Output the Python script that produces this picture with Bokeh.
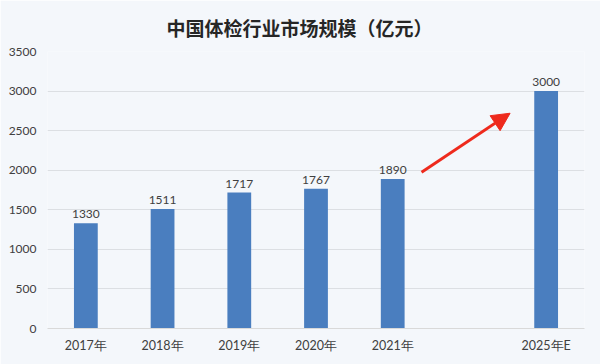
from bokeh.plotting import figure
from bokeh.models import FactorRange, Range1d, Arrow, NormalHead, SingleIntervalTicker, ColumnDataSource
from bokeh.core.properties import value
from bokeh.embed import file_html
from bokeh.resources import INLINE

title_text = "中国体检行业市场规模（亿元）"
slots = ["2017年", "2018年", "2019年", "2020年", "2021年", " ", "2025年E"]
years = ["2017年", "2018年", "2019年", "2020年", "2021年", "2025年E"]
sizes = [1330, 1511, 1717, 1767, 1890, 3000]

BG = "#f4f7fb"
BAR = "#4a7ebf"
FONT = "Lato"

p = figure(frame_width=537, frame_height=277, output_backend="svg", toolbar_location=None,
           x_range=FactorRange(*slots), y_range=Range1d(0, 3500),
           min_border_left=47, min_border_right=16, min_border_bottom=36, min_border_top=51)
p.background_fill_color = BG
p.border_fill_color = BG
p.outline_line_color = None

p.title.text = title_text
p.title.align = "left"
p.title.offset = 119
p.title.vertical_align = "top"
p.title.text_font = "Noto Sans CJK SC"
p.title.text_font_size = "19px"
p.title.text_font_style = "bold"
p.title.text_color = "#262626"
p.title.standoff = 17

src = ColumnDataSource(dict(x=years, y=sizes, lab=[str(v) for v in sizes]))
p.vbar(x="x", top="y", width=0.31, source=src, color=BAR, line_color=None)
p.text(x="x", y="y", text="lab", source=src, text_align="center", text_baseline="bottom",
       y_offset=-5, text_font=value(FONT), text_font_size="12px", text_color="#404040")

p.add_layout(Arrow(end=NormalHead(size=18, fill_color="#ee2a1d", line_color="#ee2a1d"),
                   x_start=4.876, y_start=1975, x_end=6.03, y_end=2720,
                   line_color="#ee2a1d", line_width=3))

p.yaxis.ticker = SingleIntervalTicker(interval=500)
p.yaxis.axis_line_color = None
p.yaxis.major_tick_line_color = None
p.yaxis.minor_tick_line_color = None
p.yaxis.major_tick_out = 0
p.yaxis.minor_tick_out = 0
p.yaxis.major_label_text_font = FONT
p.yaxis.major_label_text_font_size = "12px"
p.yaxis.major_label_text_color = "#404040"
p.yaxis.major_label_standoff = 11

p.xaxis.axis_line_color = "#d9d9d9"
p.xaxis.major_tick_line_color = None
p.xaxis.minor_tick_line_color = None
p.xaxis.major_tick_out = 0
p.xaxis.minor_tick_out = 0
p.xaxis.major_label_text_font = FONT
p.xaxis.major_label_text_font_size = "12.5px"
p.xaxis.major_label_text_color = "#404040"
p.xaxis.major_label_standoff = 9

p.xgrid.grid_line_color = None
p.ygrid.grid_line_color = "#dcdfe3"
p.ygrid.grid_line_width = 1

open("out.html", "w").write(file_html(p, INLINE))
